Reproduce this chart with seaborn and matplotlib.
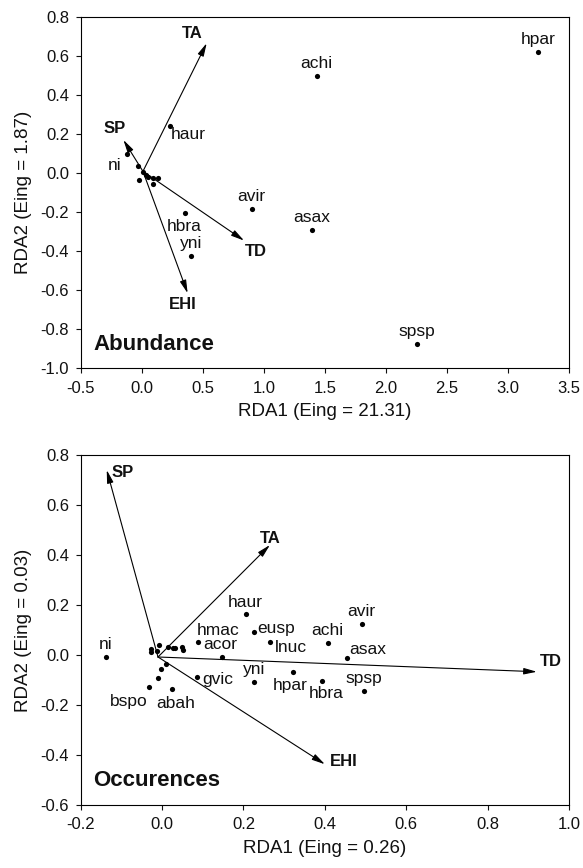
import matplotlib
matplotlib.use("Agg")
import matplotlib.pyplot as plt
import seaborn as sns
import pandas as pd

sns.set_theme(style="ticks")
plt.rcParams['font.family'] = ['Liberation Sans', 'DejaVu Sans']

# ---------------- Abundance panel data ----------------
ab_species = ["hpar", "achi", "haur", "ni", "avir", "asax", "hbra", "yni", "spsp",
              "", "", "", "", "", "", "", ""]
ab_x = [3.246, 1.433, 0.234, -0.123, 0.901, 1.392, 0.357, 0.401, 2.252,
        -0.030, -0.022, 0.008, 0.032, 0.095, 0.136, 0.092, 0.054]
ab_y = [0.622, 0.501, 0.244, 0.097, -0.185, -0.292, -0.203, -0.422, -0.875,
        0.039, -0.032, 0.009, -0.009, -0.022, -0.026, -0.055, -0.017]
ab_vars = ["TA", "SP", "TD", "EHI"]
ab_vx = [0.532, -0.150, 0.838, 0.376]
ab_vy = [0.667, 0.171, -0.345, -0.615]

# ---------------- Occurences panel data ----------------
oc_species = ["ni", "haur", "avir", "hmac", "eusp", "lnuc", "achi", "acor", "asax",
              "yni", "hpar", "hbra", "spsp", "gvic", "bspo", "abah",
              "", "", "", "", "", "", "", "", "", "", "", ""]
oc_x = [-0.139, 0.2055, 0.4905, 0.0875, 0.226, 0.266, 0.407, 0.147, 0.454,
        0.227, 0.322, 0.392, 0.496, 0.085, -0.032, 0.024,
        -0.011, -0.003, 0.009, -0.028, -0.026, -0.007, -0.013, 0.014, 0.028, 0.032, 0.049, 0.052]
oc_y = [-0.008, 0.163, 0.123, 0.052, 0.092, 0.052, 0.047, -0.009, -0.013,
        -0.108, -0.068, -0.103, -0.143, -0.088, -0.128, -0.137,
        -0.093, -0.057, -0.037, 0.025, 0.012, 0.039, 0.017, 0.032, 0.028, 0.027, 0.032, 0.019]
oc_vars = ["SP", "TA", "TD", "EHI"]
oc_vx = [-0.136, 0.265, 0.921, 0.400]
oc_vy = [0.740, 0.440, -0.067, -0.437]

# label layout (offsets in points, alignment)
ab_lab = {
    "hpar": (0, 9.2, "center"), "achi": (0, 9.0, "center"), "haur": (0, -6, "left"),
    "ni": (-4, -8.2, "right"), "avir": (0, 9.2, "center"), "asax": (0, 9.2, "center"),
    "hbra": (-1, -9.8, "center"), "yni": (0, 8.5, "center"), "spsp": (0, 9.0, "center"),
}
ab_vlab = {"TA": (-0.12, 0.05), "SP": (-0.075, 0.06), "TD": (0.095, -0.055), "EHI": (-0.04, -0.06)}

oc_lab = {
    "ni": (0, 9.2, "center"), "haur": (0, 8.7, "center"), "avir": (0, 9.2, "center"),
    "hmac": (-1, 8.2, "left"), "eusp": (2.2, 2.7, "left"), "lnuc": (3.5, -4, "left"),
    "achi": (0, 9.2, "center"), "acor": (-1, 9, "center"), "asax": (2, 6, "left"),
    "yni": (0, 9.2, "center"), "hpar": (-2, -9.4, "center"), "hbra": (3, -9.2, "center"),
    "spsp": (0, 9.0, "center"), "gvic": (4.3, -1.5, "left"), "bspo": (-1.2, -10.6, "right"),
    "abah": (3, -10.2, "center"),
}
oc_vlab = {"SP": (0.04, -0.01), "TA": (0.0, 0.025), "TD": (0.034, 0.04), "EHI": (0.046, 0.01)}

fig = plt.figure(figsize=(5.83, 8.68), dpi=100)
ax1 = fig.add_axes([0.1384, 0.5757, 0.8376, 0.4044])
ax2 = fig.add_axes([0.1384, 0.0726, 0.8376, 0.4032])

TXT = "#111111"


def draw(ax, sp, xs, ys, vars_, vx, vy, lab, vlab, origin, title, xlim, ylim, xt, yt, xlab, ylab):
    df = pd.DataFrame({"x": xs, "y": ys, "sp": sp})
    sns.scatterplot(data=df, x="x", y="y", ax=ax, color="black", s=14,
                    edgecolor="black", linewidth=0, zorder=3)
    for name, x, y in zip(sp, xs, ys):
        if name:
            dx, dy, ha = lab[name]
            ax.annotate(name, (x, y), xytext=(dx, dy), textcoords="offset points",
                        ha=ha, va="center", fontsize=12.5, color=TXT)
    for name, x, y in zip(vars_, vx, vy):
        ax.annotate("", xy=(x, y), xytext=origin,
                    arrowprops=dict(arrowstyle="-|>,head_length=0.65,head_width=0.16",
                                    color="black", lw=0.8, shrinkA=0, shrinkB=0))
        ox, oy = vlab[name]
        ax.text(x + ox, y + oy, name, fontsize=12, fontweight="bold",
                ha="center", va="center", color=TXT)
    ax.text(0.026, 0.069, title, transform=ax.transAxes, fontsize=16,
            fontweight="bold", ha="left", va="center", color=TXT)
    ax.set_xlim(*xlim)
    ax.set_ylim(*ylim)
    ax.set_xticks(xt)
    ax.set_yticks(yt)
    ax.set_xticklabels([f"{v:.1f}" for v in xt])
    ax.set_yticklabels([f"{v:.1f}" for v in yt])
    ax.set_xlabel(xlab, fontsize=13.5, labelpad=5.5, color=TXT)
    ax.set_ylabel(ylab, fontsize=13.5, labelpad=6, color=TXT)
    ax.tick_params(direction="out", length=3.3, width=0.8, labelsize=12,
                   colors=TXT)
    ax.tick_params(axis="x", pad=5.5)
    ax.tick_params(axis="y", pad=5.0)
    for s in ax.spines.values():
        s.set_visible(True)
        s.set_linewidth(0.8)
        s.set_color("black")


draw(ax1, ab_species, ab_x, ab_y, ab_vars, ab_vx, ab_vy, ab_lab, ab_vlab, (0.01, 0.01),
     "Abundance", (-0.5, 3.5), (-1.0, 0.8),
     [-0.5, 0.0, 0.5, 1.0, 1.5, 2.0, 2.5, 3.0, 3.5],
     [-1.0, -0.8, -0.6, -0.4, -0.2, 0.0, 0.2, 0.4, 0.6, 0.8],
     "RDA1 (Eing = 21.31)", "RDA2 (Eing = 1.87)")

draw(ax2, oc_species, oc_x, oc_y, oc_vars, oc_vx, oc_vy, oc_lab, oc_vlab, (-0.01, -0.008),
     "Occurences", (-0.2, 1.0), (-0.6, 0.8),
     [-0.2, 0.0, 0.2, 0.4, 0.6, 0.8, 1.0],
     [-0.6, -0.4, -0.2, 0.0, 0.2, 0.4, 0.6, 0.8],
     "RDA1 (Eing = 0.26)", "RDA2 (Eing = 0.03)")

fig.savefig("out.png", dpi=100)
